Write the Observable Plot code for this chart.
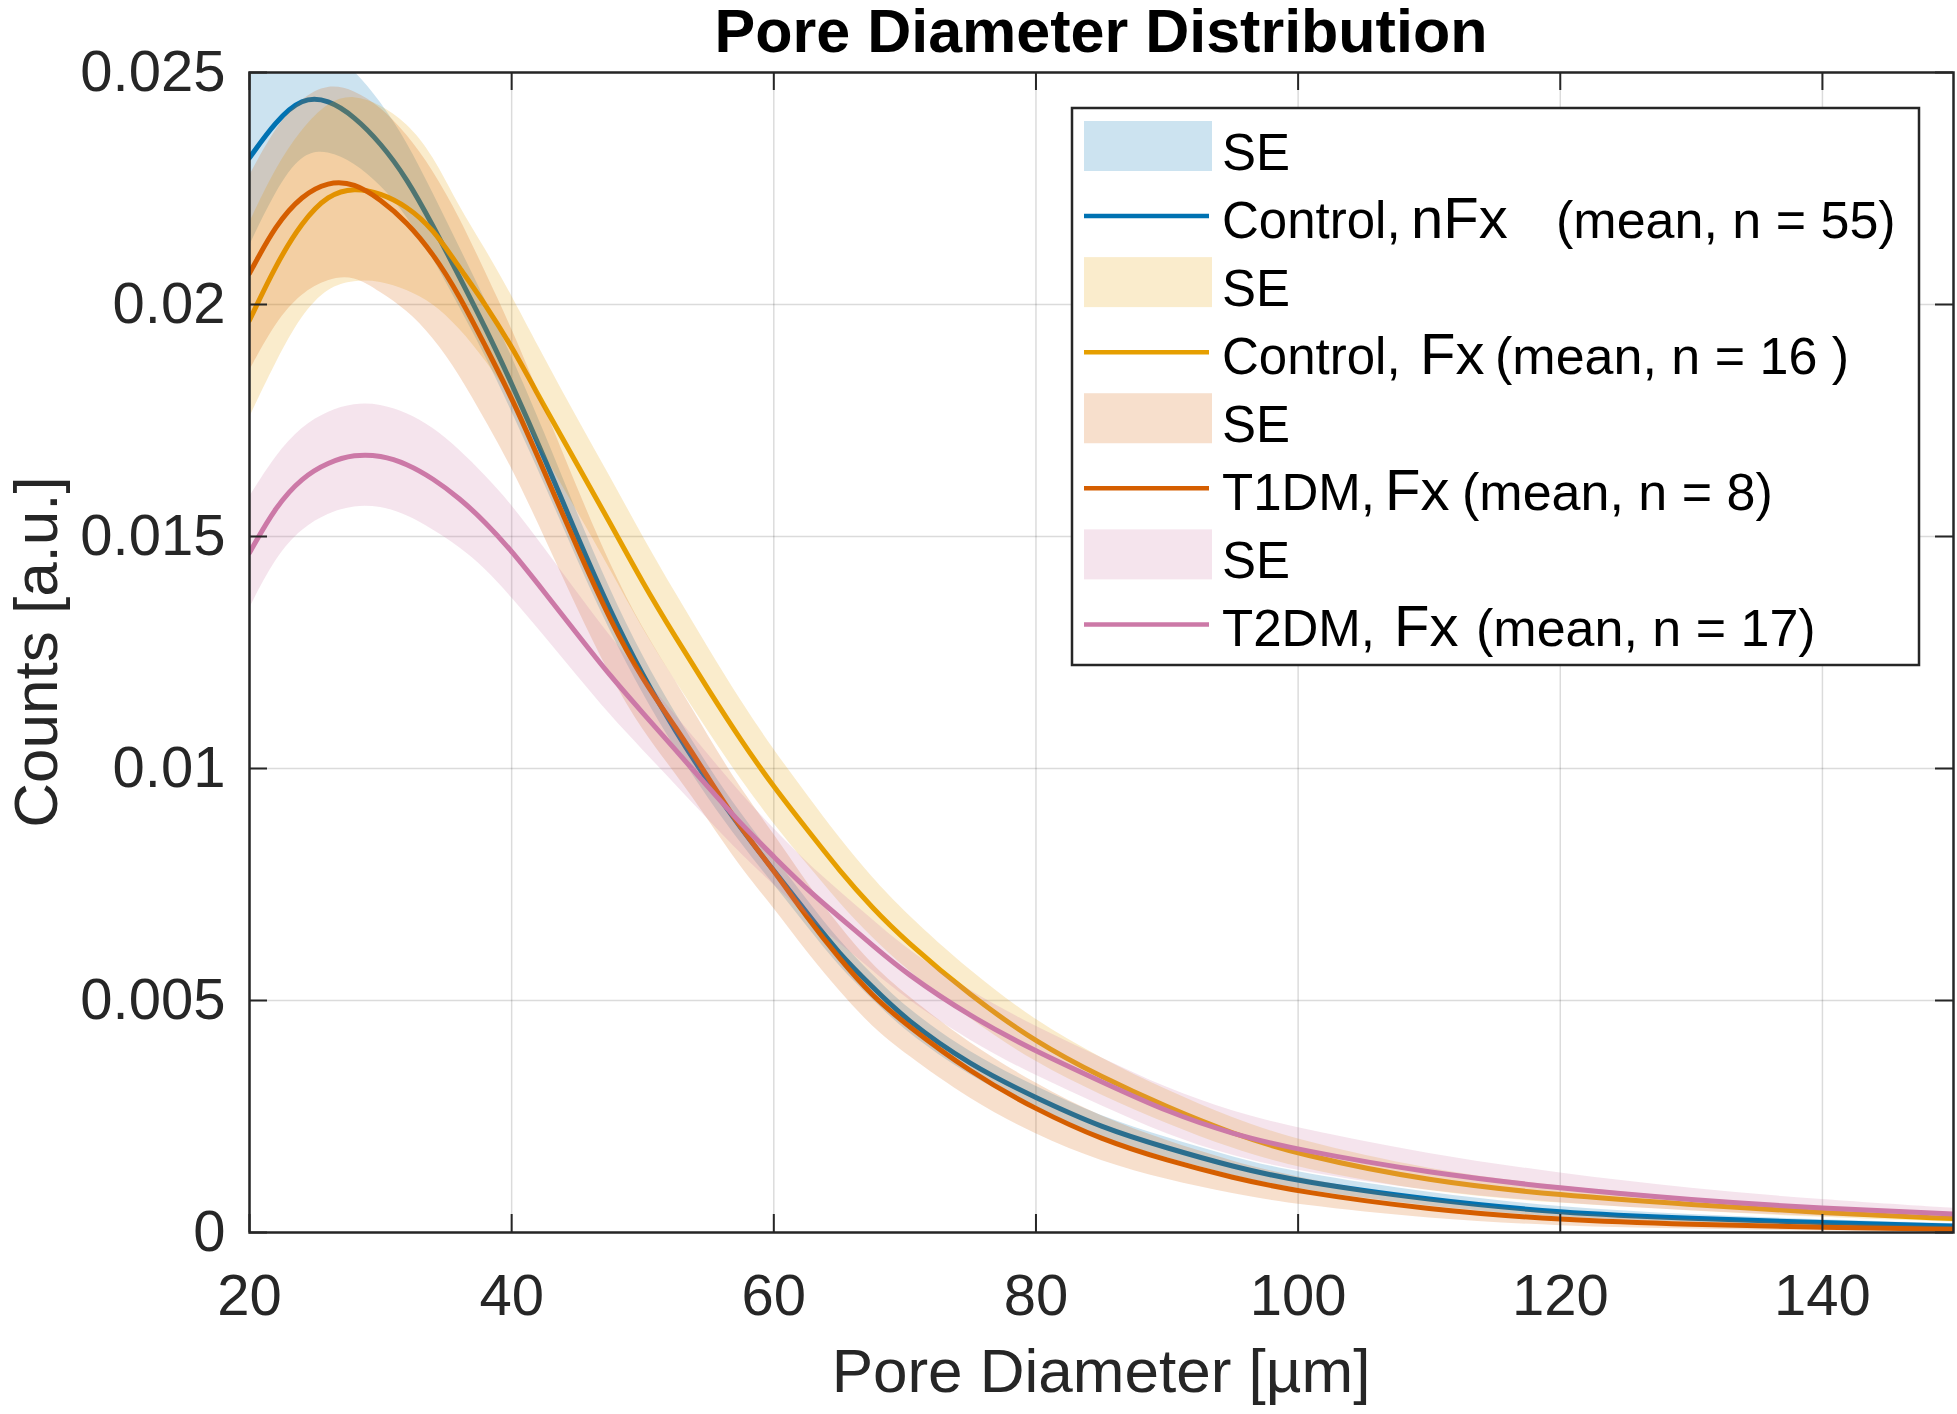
<!DOCTYPE html>
<html>
<head>
<meta charset="utf-8">
<script src="https://cdn.jsdelivr.net/npm/d3@7"></script>
<script src="https://cdn.jsdelivr.net/npm/@observablehq/plot@0.6"></script>
<style>
html,body{margin:0;padding:0;background:#fff;overflow:hidden}
#chart svg{display:block}
</style>
</head>
<body>
<div id="chart"></div>
<script>
// ---------- data ----------
const diameter = [20,22,24,26,28,30,32,34,36,38,40,42.5,45,47.5,50,52.5,55,57.5,60,62.5,65,67.5,70,75,80,85,90,95,100,110,120,130,140,150];

const controlNfxMean = [0.02316,0.02395,0.02446,0.02442,0.02405,0.02348,0.02272,0.0217,0.0206,0.0195,0.0183,0.0167,0.0150,0.0134,0.0120,0.0108,0.0097,0.0087,0.0078,0.0069,0.0060,0.0053,0.0046,0.0036,0.0029,0.00226,0.00182,0.00142,0.0011,0.0007,0.00042,0.0003,0.00021,0.00014];
const controlNfxSE   = [0.0019,0.0015,0.0012,0.0011,0.001,0.0009,0.0008,0.0007,0.00065,0.0006,0.0006,0.00055,0.0005,0.00045,0.0004,0.00038,0.00035,0.00032,0.0003,0.00029,0.00028,0.00027,0.00026,0.00025,0.00024,0.00023,0.00022,0.0002,0.00018,0.00015,0.00011,0.00008,0.00006,0.00005];

const controlFxMean = [0.01966,0.02085,0.02178,0.02237,0.02252,0.0224,0.02212,0.02163,0.0208,0.0200,0.0191,0.0178,0.01655,0.0153,0.0140,0.01283,0.0117,0.0106,0.0096,0.0087,0.0078,0.0070,0.0063,0.0051,0.0041,0.00335,0.0027,0.00213,0.00168,0.0011,0.0008,0.0006,0.00042,0.0003];
const controlFxSE   = [0.0021,0.0021,0.002,0.002,0.002,0.0019,0.0018,0.0016,0.0013,0.0012,0.0011,0.00105,0.001,0.001,0.001,0.00095,0.0009,0.00085,0.0008,0.00075,0.0007,0.00065,0.0006,0.00052,0.00045,0.0004,0.00036,0.00033,0.0003,0.00024,0.00018,0.00014,0.0001,0.00008];

const t1dmMean = [0.02067,0.02172,0.02235,0.02265,0.02262,0.02226,0.02178,0.0211,0.0202,0.0191,0.0180,0.0164,0.01475,0.0132,0.0119,0.0109,0.0098,0.0087,0.0078,0.0068,0.0059,0.0051,0.0045,0.00345,0.00265,0.002,0.00155,0.00118,0.00088,0.00049,0.00027,0.00017,0.00011,0.00007];
const t1dmSE   = [0.0021,0.0021,0.0021,0.0021,0.002,0.002,0.0019,0.0018,0.0017,0.0016,0.0015,0.0014,0.0013,0.0012,0.0011,0.001,0.0009,0.00085,0.0008,0.00075,0.0007,0.00067,0.00064,0.0006,0.00055,0.00048,0.00042,0.00035,0.00029,0.0002,0.00014,0.0001,0.00008,0.00006];

const t2dmMean = [0.01465,0.01565,0.01627,0.0166,0.01677,0.01675,0.01657,0.01625,0.01583,0.01531,0.01469,0.0138,0.0129,0.0120,0.0112,0.0104,0.0096,0.0088,0.0081,0.0074,0.0068,0.0062,0.0056,0.00465,0.0039,0.00325,0.0026,0.00212,0.00178,0.00128,0.00095,0.0007,0.00052,0.0004];
const t2dmSE   = [0.0012,0.0011,0.0011,0.0011,0.0011,0.0011,0.0011,0.0011,0.00105,0.001,0.001,0.00095,0.0009,0.00085,0.0008,0.00075,0.0007,0.00065,0.0006,0.00058,0.00056,0.00055,0.00054,0.00054,0.00053,0.00052,0.0005,0.00048,0.00046,0.0004,0.00032,0.00024,0.00018,0.00012];

const groupLabels = ["Control,", "Control,", "T1DM,", "T2DM,"];
const groupFx     = ["nFx", "Fx", "Fx", "Fx"];
const groupStats  = ["(mean, n = 55)", "(mean, n = 16 )", "(mean, n = 8)", "(mean, n = 17)"];
const seriesColors = ["#0072B2", "#E69F00", "#D55E00", "#CC79A7"];

const xTicks = [20,40,60,80,100,120,140];
const yTicks = [0,0.005,0.01,0.015,0.02,0.025];
const yTickLabels = ["0","0.005","0.01","0.015","0.02","0.025"];

const titleText = "Pore Diameter Distribution";
const xLabel = "Pore Diameter [µm]";
const yLabel = "Counts [a.u.]";

// ---------- build ----------
const means = [controlNfxMean, controlFxMean, t1dmMean, t2dmMean];
const ses = [controlNfxSE, controlFxSE, t1dmSE, t2dmSE];
const series = means.map((m, k) => ({
  color: seriesColors[k],
  rows: diameter.map((x, i) => ({x, mean: m[i], lo: m[i] - ses[k][i], hi: m[i] + ses[k][i]}))
}));

const W = 1957, H = 1414, mL = 249, mR = 4, mT = 72, mB = 182;
const innerW = W - mL - mR, innerH = H - mT - mB;
const axisColor = "#262626";
const yLabelMap = new Map(yTicks.map((t, i) => [t, yTickLabels[i]]));

const plot = Plot.plot({
  width: W, height: H,
  marginLeft: mL, marginRight: mR, marginTop: mT, marginBottom: mB,
  style: {fontFamily: "'Liberation Sans', Arial, sans-serif", color: axisColor, background: "#fff", overflow: "visible"},
  x: {domain: [20, 150]},
  y: {domain: [0, 0.025]},
  marks: [
    Plot.gridX(xTicks, {stroke: "#000", strokeOpacity: 0.14, strokeWidth: 1.5}),
    Plot.gridY(yTicks, {stroke: "#000", strokeOpacity: 0.14, strokeWidth: 1.5}),
    ...series.flatMap(s => [
      Plot.areaY(s.rows, {x: "x", y1: "lo", y2: "hi", fill: s.color, fillOpacity: 0.2, curve: "basis", clip: true}),
      Plot.line(s.rows, {x: "x", y: "mean", stroke: s.color, strokeWidth: 5, curve: "basis", clip: true})
    ]),
    Plot.tickX(xTicks, {x: d => d, insetTop: innerH - 18, stroke: axisColor, strokeWidth: 2}),
    Plot.tickX(xTicks, {x: d => d, insetBottom: innerH - 18, stroke: axisColor, strokeWidth: 2}),
    Plot.tickY(yTicks, {y: d => d, insetRight: innerW - 18, stroke: axisColor, strokeWidth: 2}),
    Plot.tickY(yTicks, {y: d => d, insetLeft: innerW - 18, stroke: axisColor, strokeWidth: 2}),
    Plot.axisX(xTicks, {tickSize: 0, tickPadding: 41, fontSize: 58, label: null}),
    Plot.axisY(yTicks, {tickSize: 0, tickPadding: 24, fontSize: 58, label: null, tickFormat: d => yLabelMap.get(d)}),
    Plot.frame({stroke: axisColor, strokeWidth: 2.5})
  ]
});
document.getElementById("chart").appendChild(plot);

const svg = d3.select(plot);
svg.selectAll('g[aria-label="x-axis tick label"], g[aria-label="y-axis tick label"]').attr("font-size", 58);

const cx = mL + innerW / 2, cy = mT + innerH / 2;
svg.append("text").attr("x", cx).attr("y", 52).attr("text-anchor", "middle")
  .attr("font-weight", "bold").attr("font-size", 61).attr("fill", "#000").text(titleText);
svg.append("text").attr("x", cx).attr("y", 1392).attr("text-anchor", "middle")
  .attr("font-size", 62).attr("fill", axisColor).text(xLabel);
svg.append("text").attr("transform", `translate(57,${cy}) rotate(-90)`).attr("text-anchor", "middle")
  .attr("font-size", 62).attr("fill", axisColor).text(yLabel);

// ---------- legend ----------
const lg = svg.append("g").attr("font-size", 51).attr("fill", "#000")
  .attr("text-anchor", "start").style("white-space", "pre");
lg.append("rect").attr("x", 1072).attr("y", 108).attr("width", 847).attr("height", 557)
  .attr("fill", "#fff").attr("stroke", axisColor).attr("stroke-width", 2.5);
const pitch = 68.06, base0 = 170;
const fxX = [1411, 1420, 1385, 1394];
const statX = [1556, 1495, 1462, 1476];
seriesColors.forEach((c, k) => {
  const bSE = base0 + (2 * k) * pitch;
  const bLn = base0 + (2 * k + 1) * pitch;
  lg.append("rect").attr("x", 1084).attr("y", bSE - 49).attr("width", 128).attr("height", 50)
    .attr("fill", c).attr("fill-opacity", 0.2);
  lg.append("text").attr("x", 1222).attr("y", bSE).text("SE");
  lg.append("line").attr("x1", 1084).attr("x2", 1209).attr("y1", bLn - 22).attr("y2", bLn - 22)
    .attr("stroke", c).attr("stroke-width", 4.5);
  const t = lg.append("text").attr("y", bLn);
  t.append("tspan").attr("x", 1222).text(groupLabels[k]);
  t.append("tspan").attr("x", fxX[k]).attr("font-size", 58).text(groupFx[k]);
  t.append("tspan").attr("x", statX[k]).attr("font-size", 52).text(groupStats[k]);
});
</script>
</body>
</html>
